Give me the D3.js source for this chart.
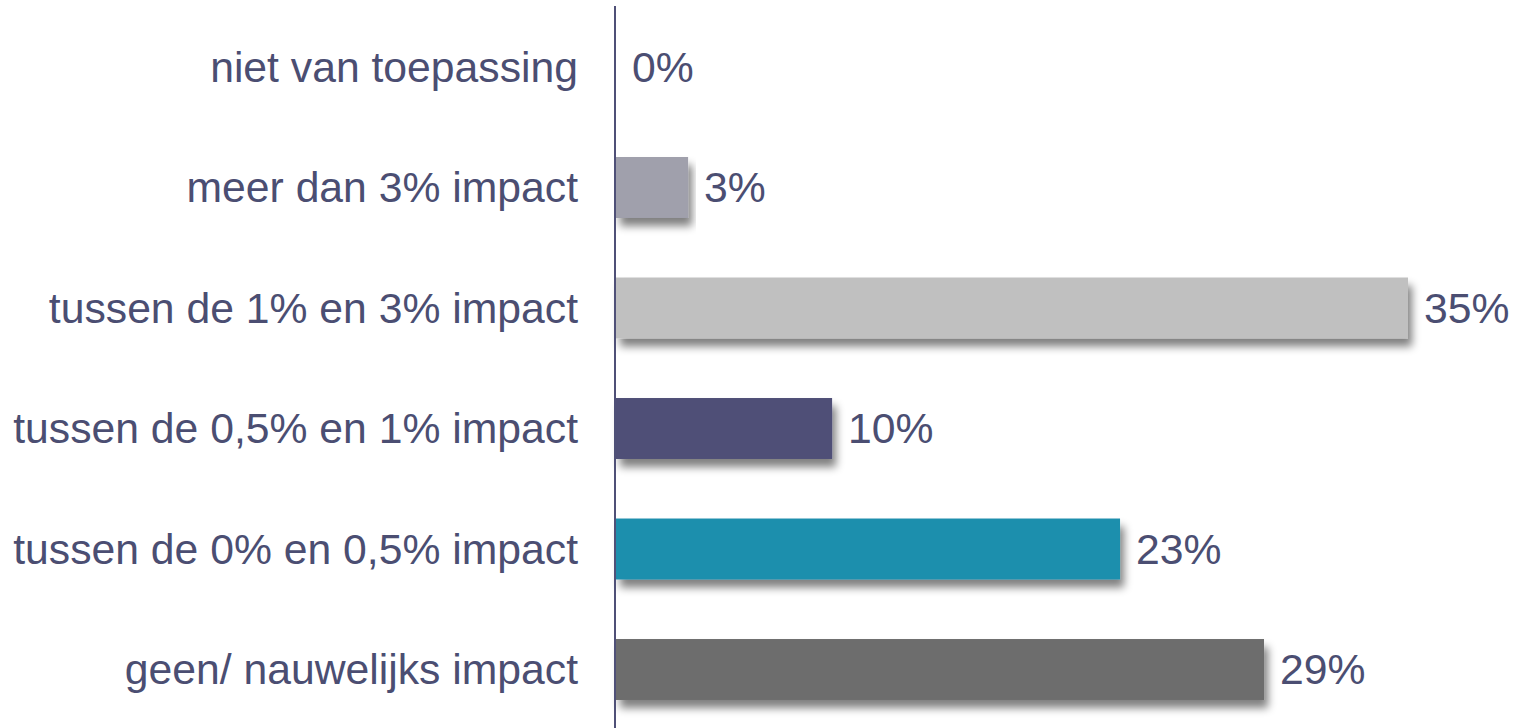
<!DOCTYPE html>
<html><head><meta charset="utf-8">
<script src="https://cdn.jsdelivr.net/npm/d3@7"></script>
<style>body{margin:0;background:#fff;}svg{display:block;}</style>
</head><body>
<svg id="c" width="1515" height="728"></svg>
<script>
const categories = ["niet van toepassing","meer dan 3% impact","tussen de 1% en 3% impact","tussen de 0,5% en 1% impact","tussen de 0% en 0,5% impact","geen/ nauwelijks impact"];
const values = [0, 3.23, 35.48, 9.68, 22.58, 29.03];
const valueLabels = ["0%","3%","35%","10%","23%","29%"];
const colors = ["#a0a0ac","#a0a0ac","#c0c0c0","#4f5077","#1f8fad","#6d6d6d"];

const svg = d3.select("#c");
const x0 = 616;
const x = d3.scaleLinear().domain([0, 35.48]).range([x0, 1408]);
const y = d3.scaleBand().domain(categories).range([6.75, 729.75]).paddingInner(0.494).paddingOuter(0.247);

const defs = svg.append("defs");
const f = defs.append("filter").attr("id","sh").attr("x","-5%").attr("y","-20%").attr("width","115%").attr("height","170%");
f.append("feGaussianBlur").attr("in","SourceAlpha").attr("stdDeviation",4.5).attr("result","b");
f.append("feOffset").attr("in","b").attr("dx",4).attr("dy",8).attr("result","o");
f.append("feComponentTransfer").attr("in","o").attr("result","o2").append("feFuncA").attr("type","linear").attr("slope",0.5);
const m = f.append("feMerge"); m.append("feMergeNode").attr("in","o2"); m.append("feMergeNode").attr("in","SourceGraphic");

svg.append("g").selectAll("rect").data(categories).join("rect")
  .attr("x", x0).attr("y", d => y(d)).attr("height", y.bandwidth())
  .attr("width", (d,i) => x(values[i]) - x0)
  .attr("fill", (d,i) => colors[i])
  .attr("filter", (d,i) => values[i] > 0 ? "url(#sh)" : null);

svg.append("line").attr("x1",615).attr("x2",615).attr("y1",6).attr("y2",728)
  .attr("stroke","#4f5077").attr("stroke-width",2);

const font = "'Liberation Sans', Arial, sans-serif";
svg.append("g").selectAll("text").data(categories).join("text")
  .attr("x", 578).attr("y", d => y(d) + y.bandwidth()/2).attr("dy","0.35em")
  .attr("text-anchor","end").attr("font-family",font).attr("font-size",42.7)
  .attr("fill","#4b4e72").text(d => d);

svg.append("g").selectAll("text").data(categories).join("text")
  .attr("x", (d,i) => x(values[i]) + 16).attr("y", d => y(d) + y.bandwidth()/2).attr("dy","0.35em")
  .attr("font-family",font).attr("font-size",42.7)
  .attr("fill","#4b4e72").text((d,i) => valueLabels[i]);
</script>
</body></html>
